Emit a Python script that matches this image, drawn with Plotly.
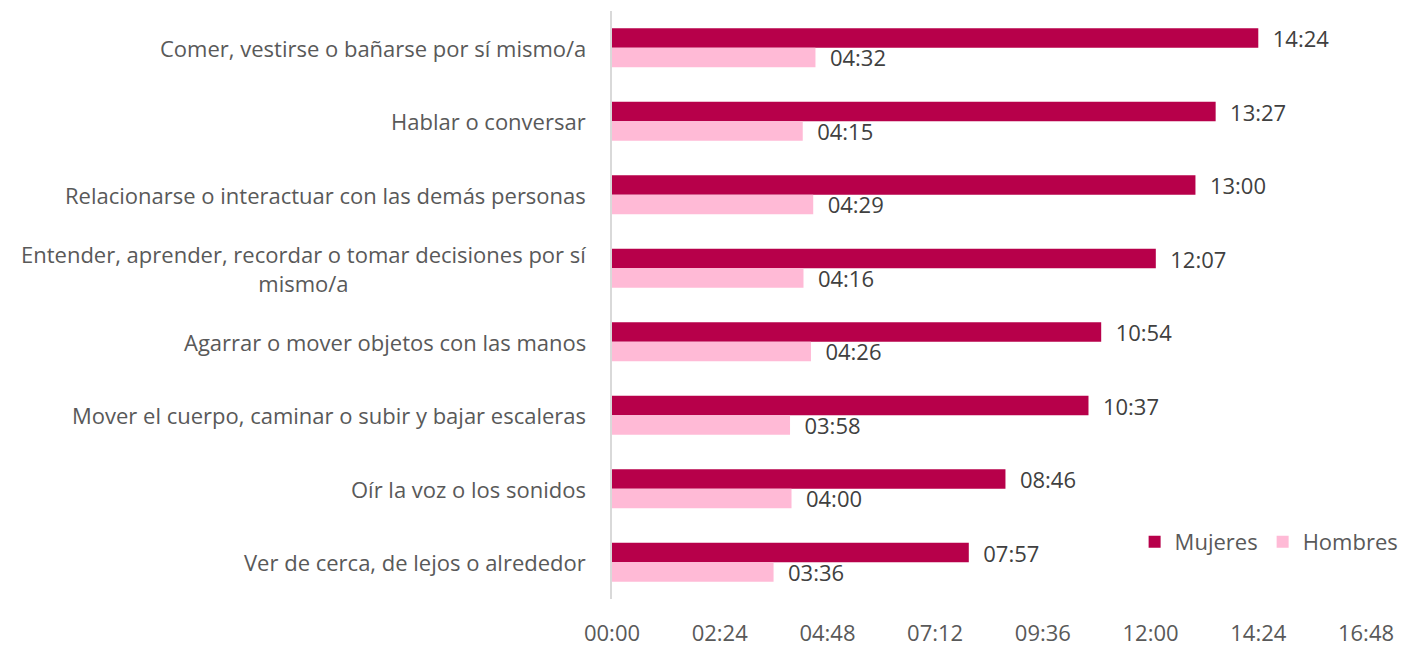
import plotly.graph_objects as go

categories = [
    "Comer, vestirse o bañarse por sí mismo/a",
    "Hablar o conversar",
    "Relacionarse o interactuar con las demás personas",
    "Entender, aprender, recordar o tomar decisiones por sí<br>mismo/a",
    "Agarrar o mover objetos con las manos",
    "Mover el cuerpo, caminar o subir y bajar escaleras",
    "Oír la voz o los sonidos",
    "Ver de cerca, de lejos o alrededor",
]
# values in minutes (hh:mm shown)
mujeres = [864, 807, 780, 727, 654, 637, 526, 477]
hombres = [272, 255, 269, 256, 266, 238, 240, 216]
tick_vals = [0, 144, 288, 432, 576, 720, 864, 1008]
tick_text = ["00:00", "02:24", "04:48", "07:12", "09:36", "12:00", "14:24", "16:48"]


def fmt(m):
    return "%02d:%02d" % (m // 60, m % 60)


pad = "\u00a0\u00a0"
FONT = "Open Sans"
SZ = 22
fig = go.Figure()
fig.add_trace(go.Bar(
    y=categories, x=mujeres, orientation="h", name="Mujeres",
    marker=dict(color="#B7004A", line=dict(width=0)),
    text=[pad + fmt(v) for v in mujeres], textposition="outside",
    textfont=dict(family=FONT, size=SZ, color="#404040"),
    constraintext="none", cliponaxis=False,
))
fig.add_trace(go.Bar(
    y=categories, x=hombres, orientation="h", name="Hombres",
    marker=dict(color="#FFBAD6", line=dict(width=0)),
    text=[pad + fmt(v) for v in hombres], textposition="outside",
    textfont=dict(family=FONT, size=SZ, color="#404040"),
    constraintext="none", cliponaxis=False,
))

for c in categories:
    fig.add_annotation(
        x=-0.030, xref="paper", y=c, yref="y", text=c, showarrow=False,
        xanchor="right", yanchor="middle", align="center",
        font=dict(family=FONT, size=SZ, color="#595959"),
    )

fig.update_layout(
    width=1398, height=638,
    margin=dict(l=604, r=0, t=3, b=47, autoexpand=False),
    paper_bgcolor="white", plot_bgcolor="white",
    barmode="group", bargap=0.47, bargroupgap=0,
    font=dict(family=FONT, color="#595959"),
    legend=dict(orientation="h", x=0.997, xanchor="right", y=0.097, yanchor="middle",
                font=dict(family=FONT, size=SZ, color="#595959"),
                itemwidth=30, traceorder="normal", bgcolor="rgba(0,0,0,0)"),
    xaxis=dict(range=[0, 1008], domain=[0, 754 / 794], tickvals=tick_vals, ticktext=tick_text,
               showgrid=False, zeroline=False, showline=False, automargin=False,
               tickfont=dict(family=FONT, size=SZ, color="#595959"),
               ticks="", ticklabelstandoff=19),
    yaxis=dict(autorange="reversed", showticklabels=False, showgrid=False, automargin=False,
               showline=True, linecolor="#D9D9D9", linewidth=2, ticks=""),
)

fig.write_html("out.html")
